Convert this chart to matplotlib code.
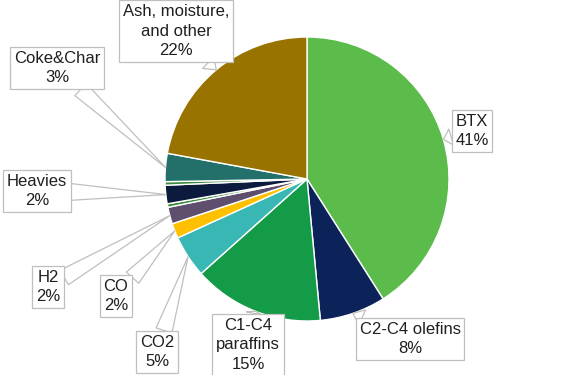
import matplotlib
matplotlib.use("Agg")
import matplotlib.pyplot as plt
import numpy as np

# Product distribution (clockwise from 12 o'clock); the two thin unlabeled slices are unnamed
names = ["BTX", "C2-C4 olefins", "C1-C4\nparaffins", "CO2", "CO", "H2", "",
         "Heavies", "", "Coke&Char", "Ash, moisture,\nand other"]
values = [41.0, 7.5, 14.9, 4.8, 1.7, 1.9, 0.4, 2.1, 0.4, 3.2, 22.1]
colors = ["#5BBB4B", "#0B2359", "#139B48", "#38B7B5", "#FFC000", "#5E4F6E",
          "#3E8A3E", "#0B1A3D", "#3E8A3E", "#23706A", "#997300"]

# label box centres, pixels from top-left
label_pos = {
    "BTX": (472, 131),
    "C2-C4 olefins": (410, 339),
    "C1-C4\nparaffins": (248, 345),
    "CO2": (157, 352),
    "CO": (116, 296),
    "H2": (48, 287),
    "Heavies": (37, 191),
    "Coke&Char": (57, 68),
    "Ash, moisture,\nand other": (176, 31),
}

W, H = 581, 375
cx, cy, r = 307, H - 179, 142

fig = plt.figure(figsize=(W / 100, H / 100), dpi=100)
ax = fig.add_axes([0, 0, 1, 1])
wedges, _ = ax.pie(values, colors=colors, center=(cx, cy), radius=r,
                   startangle=90, counterclock=False,
                   wedgeprops=dict(edgecolor="white", linewidth=1.0))
ax.set_xlim(0, W)
ax.set_ylim(0, H)
ax.axis("off")

for w, name, v in zip(wedges, names, values):
    if not name:
        continue
    mid = np.deg2rad((w.theta1 + w.theta2) / 2)
    tip = (cx + r * np.cos(mid), cy + r * np.sin(mid))
    px, py = label_pos[name]
    ax.annotate(f"{name}\n{round(v)}%", xy=tip, xytext=(px, H - py),
                ha="center", va="center", fontsize=12, family="Liberation Sans",
                color="#1F1F1F", linespacing=1.4,
                bbox=dict(boxstyle="square,pad=0.22", fc="white", ec="#BFBFBF", lw=0.9),
                arrowprops=dict(arrowstyle="wedge,tail_width=1.0", fc="white",
                                ec="#BFBFBF", lw=0.9, shrinkA=0, shrinkB=0))

fig.savefig("out.png", dpi=100)
